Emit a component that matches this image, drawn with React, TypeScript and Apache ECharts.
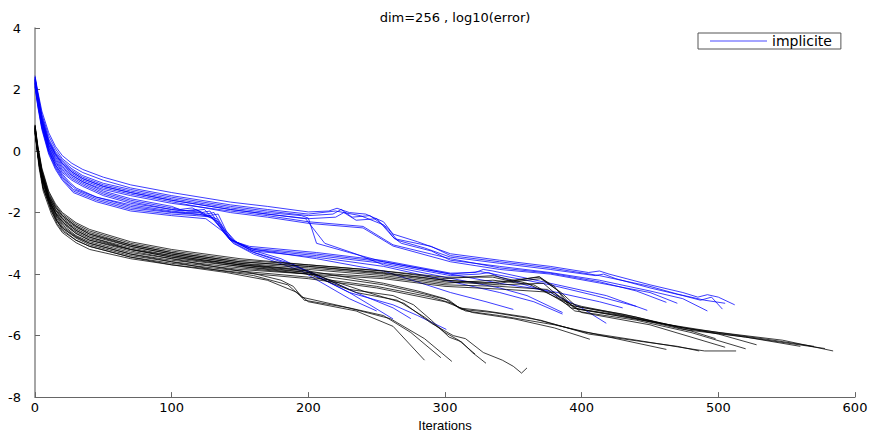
import React, { useEffect, useRef } from "react";
import * as echarts from "echarts";

type Pt = [number, number];

const titleText = "dim=256 , log10(error)";
const xAxisName = "Iterations";
const legendLabel = "implicite";
const otherLabel = "explicite";

// ---- blue curves (implicite) ----
const blueU1: Pt[] = [[0,2.45],[2,1.95],[5,1.3],[10,0.6],[15,0.15],[20,-0.15],[27,-0.4],[35,-0.6],[50,-0.85],[70,-1.1],[100,-1.35],[143,-1.66],[170,-1.8],[200,-1.98],[215,-1.95],[221,-1.86],[230,-2.0],[242,-2.05],[255,-2.3],[262,-2.7],[280,-2.95],[304,-3.34],[340,-3.55],[377,-3.75],[405,-3.95],[413,-3.9],[420,-4.0],[450,-4.35],[474,-4.6],[485,-4.75],[492,-4.67],[500,-4.75],[512,-5.0]];
const blueU2: Pt[] = [[0,2.35],[2,1.85],[5,1.15],[10,0.4],[15,-0.02],[20,-0.3],[27,-0.58],[35,-0.8],[50,-1.05],[70,-1.25],[100,-1.5],[143,-1.8],[170,-1.95],[200,-2.1],[218,-2.05],[224,-1.9],[232,-2.15],[245,-2.1],[258,-2.5],[265,-2.9],[285,-3.15],[304,-3.45],[340,-3.65],[377,-3.85],[410,-4.05],[416,-4.0],[425,-4.15],[450,-4.45],[474,-4.7],[487,-4.85],[495,-4.75],[503,-5.14]];
const blueU3: Pt[] = [[0,2.3],[2,1.75],[5,1.05],[10,0.3],[15,-0.1],[20,-0.4],[27,-0.68],[35,-0.9],[50,-1.15],[70,-1.35],[100,-1.6],[143,-1.9],[170,-2.05],[200,-2.2],[220,-2.15],[226,-2.0],[235,-2.25],[250,-2.2],[262,-2.8],[268,-3.0],[290,-3.25],[304,-3.55],[340,-3.75],[377,-3.95],[413,-4.2],[450,-4.55],[474,-4.8],[492,-5.2]];
const blueU4: Pt[] = [[0,2.4],[2,1.9],[5,1.2],[10,0.5],[15,0.07],[20,-0.25],[27,-0.5],[35,-0.7],[50,-0.95],[70,-1.2],[100,-1.45],[143,-1.75],[170,-1.9],[200,-2.05],[220,-1.95],[238,-2.1],[255,-2.4],[263,-2.85],[290,-3.1],[304,-3.4],[340,-3.6],[377,-3.8],[413,-4.05],[450,-4.4],[470,-4.65],[490,-4.85],[505,-4.95]];
const blueU5: Pt[] = [[0,2.2],[2,1.65],[5,0.95],[10,0.2],[15,-0.2],[20,-0.5],[27,-0.78],[35,-1.0],[50,-1.25],[70,-1.45],[100,-1.7],[143,-1.95],[170,-2.1],[200,-2.3],[240,-2.45],[262,-3.05],[290,-3.35],[304,-3.5],[340,-3.8],[377,-3.97],[413,-4.25],[440,-4.55],[462,-4.92]];
const blueU6: Pt[] = [[0,2.3],[2,1.75],[5,1.0],[10,0.25],[15,-0.15],[20,-0.45],[27,-0.73],[35,-0.95],[50,-1.2],[70,-1.4],[100,-1.65],[143,-2.0],[170,-2.15],[200,-2.35],[240,-2.5],[262,-3.09],[304,-3.6],[340,-3.85],[377,-4.0],[413,-4.29],[450,-4.6],[470,-4.95]];
const blueM1: Pt[] = [[0,2.35],[2,1.8],[5,1.0],[10,0.2],[15,-0.25],[20,-0.55],[27,-0.8],[35,-1.0],[50,-1.3],[70,-1.55],[100,-1.8],[106,-1.9],[115,-1.85],[122,-2.0],[128,-1.95],[135,-2.4],[143,-2.9],[157,-3.1],[206,-3.3],[255,-3.56],[304,-3.97],[322,-3.95],[328,-3.85],[335,-3.9],[377,-4.3],[418,-4.7],[448,-5.18]];
const blueM2: Pt[] = [[0,2.25],[2,1.65],[5,0.9],[10,0.1],[15,-0.35],[20,-0.65],[27,-0.9],[35,-1.1],[50,-1.4],[70,-1.65],[100,-1.9],[108,-1.95],[118,-1.9],[125,-2.05],[131,-2.0],[138,-2.5],[146,-2.95],[160,-3.2],[206,-3.4],[255,-3.65],[304,-4.05],[325,-4.0],[332,-3.95],[340,-4.1],[377,-4.6],[400,-5.1],[418,-5.6]];
const blueM3: Pt[] = [[0,2.2],[2,1.55],[5,0.8],[10,0.0],[15,-0.45],[20,-0.75],[25,-1.0],[30,-1.2],[45,-1.5],[70,-1.75],[100,-1.95],[110,-2.0],[120,-2.0],[127,-2.1],[134,-2.05],[140,-2.6],[148,-3.0],[160,-3.25],[206,-3.45],[255,-3.75],[300,-4.2],[340,-4.6],[365,-4.9],[386,-5.3]];
const blueM4: Pt[] = [[0,2.3],[2,1.7],[5,0.95],[10,0.15],[15,-0.3],[20,-0.6],[27,-0.85],[35,-1.05],[50,-1.35],[70,-1.6],[100,-1.85],[112,-1.95],[124,-1.9],[132,-2.3],[142,-2.85],[157,-3.15],[206,-3.35],[255,-3.6],[304,-4.0],[326,-3.92],[377,-4.35],[410,-4.7],[440,-5.05]];
const blueD1: Pt[] = [[0,2.4],[2,1.85],[5,1.1],[10,0.35],[15,-0.07],[20,-0.35],[27,-0.63],[35,-0.85],[50,-1.1],[70,-1.3],[100,-1.55],[143,-1.85],[170,-2.0],[195,-2.1],[200,-2.18],[206,-3.0],[230,-3.3],[255,-3.6],[304,-4.0],[340,-4.3],[377,-4.55],[413,-4.9],[430,-5.1]];
const blueD2: Pt[] = [[0,2.35],[2,1.8],[5,1.05],[10,0.3],[15,-0.12],[20,-0.4],[27,-0.68],[35,-0.9],[50,-1.15],[70,-1.35],[100,-1.6],[143,-1.9],[170,-2.05],[198,-2.2],[205,-2.6],[212,-3.0],[235,-3.35],[255,-3.7],[300,-4.1],[340,-4.45],[360,-4.7],[386,-5.25]];
const blueS1: Pt[] = [[0,2.15],[2,1.55],[5,0.8],[10,0.0],[15,-0.5],[20,-0.85],[28,-1.25],[45,-1.55],[70,-1.85],[100,-2.0],[115,-2.05],[128,-2.1],[136,-2.5],[143,-2.9],[157,-3.2],[180,-3.5],[206,-4.07],[230,-4.6],[262,-5.0],[280,-5.35],[301,-5.8]];
const blueS2: Pt[] = [[0,2.1],[2,1.5],[5,0.75],[10,-0.05],[15,-0.55],[20,-0.9],[28,-1.3],[45,-1.6],[70,-1.9],[100,-2.05],[118,-2.1],[130,-2.15],[138,-2.6],[146,-3.0],[157,-3.25],[190,-3.7],[230,-4.6],[245,-5.0],[262,-5.46]];
const blueS3: Pt[] = [[0,2.2],[2,1.6],[5,0.85],[10,0.05],[15,-0.45],[20,-0.8],[25,-1.05],[30,-1.25],[45,-1.5],[70,-1.8],[100,-1.98],[120,-2.05],[133,-2.2],[142,-2.8],[160,-3.3],[200,-3.9],[240,-4.7],[262,-5.1],[275,-5.45]];
const blueS4: Pt[] = [[0,2.1],[2,1.45],[5,0.7],[10,-0.1],[15,-0.6],[20,-0.95],[28,-1.35],[45,-1.65],[70,-1.95],[100,-2.1],[125,-2.2],[137,-2.6],[145,-3.0],[160,-3.35],[195,-3.9],[230,-4.8],[250,-5.2]];
const blueS5: Pt[] = [[0,2.25],[2,1.65],[5,0.9],[10,0.1],[15,-0.38],[20,-0.7],[27,-0.95],[35,-1.15],[50,-1.45],[70,-1.7],[100,-1.9],[120,-1.98],[134,-2.3],[144,-2.9],[160,-3.2],[206,-3.5],[255,-3.9],[304,-4.6],[330,-4.9],[350,-5.15]];

// ---- black curves ----
const blackK1: Pt[] = [[0,0.85],[2,0.2],[5,-0.55],[10,-1.3],[15,-1.72],[20,-2.0],[30,-2.33],[40,-2.55],[70,-2.95],[100,-3.2],[150,-3.5],[200,-3.7],[255,-3.9],[300,-4.1],[335,-4.1],[350,-4.25],[370,-4.15],[385,-4.6],[396,-5.05],[430,-5.3],[474,-5.75],[510,-5.95],[547,-6.15],[584,-6.5]];
const blackK2: Pt[] = [[0,0.8],[2,0.1],[5,-0.65],[10,-1.4],[15,-1.82],[20,-2.1],[30,-2.43],[40,-2.65],[70,-3.05],[100,-3.3],[150,-3.6],[200,-3.75],[255,-3.95],[300,-4.2],[330,-4.3],[369,-4.1],[380,-4.4],[392,-5.1],[430,-5.35],[474,-5.8],[520,-6.05],[578,-6.42]];
const blackK3: Pt[] = [[0,0.7],[2,0.0],[5,-0.75],[10,-1.5],[15,-1.92],[20,-2.2],[30,-2.53],[40,-2.75],[70,-3.1],[100,-3.35],[150,-3.65],[200,-3.8],[255,-4.0],[300,-4.25],[340,-4.35],[372,-4.3],[385,-4.8],[398,-5.15],[440,-5.45],[480,-5.8],[520,-6.05],[560,-6.35]];
const blackK4: Pt[] = [[0,0.6],[3,-0.35],[6,-1.0],[12,-1.75],[16,-2.08],[20,-2.3],[30,-2.63],[40,-2.85],[70,-3.2],[100,-3.45],[150,-3.7],[200,-3.85],[255,-4.05],[300,-4.3],[335,-4.2],[365,-4.35],[390,-5.0],[420,-5.25],[470,-5.7],[500,-5.95],[528,-6.3]];
const blackK5: Pt[] = [[0,0.75],[2,-0.1],[5,-0.85],[10,-1.6],[15,-2.08],[20,-2.4],[30,-2.75],[40,-2.95],[70,-3.3],[100,-3.5],[150,-3.75],[200,-3.95],[255,-4.1],[300,-4.35],[340,-4.4],[375,-4.5],[395,-5.2],[440,-5.5],[480,-5.9],[520,-6.43]];
const blackK6: Pt[] = [[0,0.65],[3,-0.45],[6,-1.2],[12,-1.95],[16,-2.28],[20,-2.5],[30,-2.83],[40,-3.05],[70,-3.4],[100,-3.6],[150,-3.85],[200,-4.0],[255,-4.15],[300,-4.4],[345,-4.5],[380,-4.6],[400,-5.25],[450,-5.65],[505,-6.38]];
const blackK7: Pt[] = [[0,0.8],[2,0.0],[5,-0.75],[10,-1.5],[15,-1.92],[20,-2.2],[30,-2.58],[40,-2.8],[70,-3.15],[100,-3.4],[150,-3.7],[200,-3.9],[255,-4.3],[280,-4.55],[300,-4.8],[310,-5.1],[330,-5.2],[360,-5.4],[401,-5.88],[440,-6.15],[475,-6.4],[490,-6.5],[513,-6.5]];
const blackK8: Pt[] = [[0,0.7],[3,-0.45],[6,-1.2],[12,-1.85],[16,-2.2],[20,-2.45],[30,-2.78],[40,-3.0],[70,-3.35],[100,-3.55],[150,-3.8],[200,-4.0],[255,-4.35],[285,-4.65],[303,-4.85],[312,-5.15],[335,-5.25],[370,-5.5],[405,-5.95],[445,-6.2],[470,-6.35],[486,-6.5]];
const blackK9: Pt[] = [[0,0.75],[2,-0.1],[5,-0.85],[10,-1.65],[15,-2.2],[20,-2.55],[30,-2.9],[40,-3.1],[70,-3.45],[100,-3.65],[150,-3.9],[200,-4.1],[250,-4.4],[290,-4.75],[305,-4.95],[315,-5.2],[340,-5.35],[380,-5.65],[420,-6.05],[462,-6.45]];
const blackK10: Pt[] = [[0,0.6],[3,-0.55],[6,-1.3],[12,-2.05],[16,-2.4],[20,-2.65],[30,-2.98],[40,-3.2],[70,-3.5],[100,-3.7],[150,-3.95],[200,-4.15],[250,-4.45],[300,-4.9],[320,-5.25],[350,-5.45],[380,-5.75],[406,-6.12]];
const blackK11: Pt[] = [[0,0.7],[2,-0.1],[5,-0.85],[10,-1.6],[15,-2.02],[20,-2.3],[30,-2.68],[40,-2.9],[70,-3.25],[100,-3.5],[130,-3.75],[157,-3.95],[180,-4.2],[189,-4.4],[197,-4.85],[230,-5.1],[255,-5.35],[275,-5.9],[297,-6.72]];
const blackK12: Pt[] = [[0,0.65],[3,-0.35],[6,-1.1],[12,-1.85],[16,-2.25],[20,-2.5],[30,-2.8],[40,-3.0],[70,-3.35],[100,-3.6],[130,-3.85],[160,-4.05],[185,-4.35],[195,-4.75],[225,-5.05],[260,-5.45],[285,-6.1],[305,-6.84]];
const blackK13: Pt[] = [[0,0.6],[3,-0.45],[6,-1.2],[12,-1.95],[16,-2.35],[20,-2.6],[30,-2.9],[40,-3.1],[70,-3.45],[100,-3.7],[140,-3.95],[170,-4.2],[192,-4.6],[200,-4.9],[235,-5.2],[262,-5.7],[285,-6.8]];
const blackK14: Pt[] = [[0,0.8],[2,0.1],[5,-0.65],[10,-1.45],[15,-1.88],[20,-2.15],[30,-2.48],[40,-2.7],[70,-3.1],[100,-3.35],[150,-3.65],[200,-3.9],[230,-4.5],[262,-4.7],[277,-5.0],[290,-5.5],[303,-6.05],[312,-6.2],[320,-6.55],[330,-6.9]];
const blackK15: Pt[] = [[0,0.7],[3,-0.25],[6,-1.0],[12,-1.75],[16,-2.12],[20,-2.35],[30,-2.68],[40,-2.9],[70,-3.2],[100,-3.45],[150,-3.75],[200,-4.0],[235,-4.6],[265,-4.85],[285,-5.4],[300,-5.9],[310,-6.15],[322,-6.6]];
const blackK16: Pt[] = [[0,0.75],[2,0.0],[5,-0.75],[10,-1.55],[15,-1.98],[20,-2.25],[30,-2.58],[40,-2.8],[70,-3.2],[100,-3.4],[150,-3.7],[200,-3.95],[240,-4.55],[270,-4.95],[290,-5.6],[306,-6.0],[315,-6.1],[328,-6.55],[342,-6.8],[350,-7.0],[356,-7.22],[360,-7.05]];
const blackK17: Pt[] = [[0,0.85],[2,0.15],[5,-0.6],[10,-1.35],[15,-1.77],[20,-2.05],[30,-2.38],[40,-2.6],[70,-3.0],[100,-3.25],[150,-3.55],[200,-3.7],[255,-3.9],[300,-4.15],[335,-4.05],[360,-4.3],[388,-4.9],[400,-5.05],[440,-5.4],[480,-5.85],[498,-6.1]];
const blackK18: Pt[] = [[0,0.8],[2,0.05],[5,-0.7],[10,-1.45],[15,-1.82],[20,-2.1],[30,-2.45],[40,-2.7],[70,-3.05],[100,-3.3],[150,-3.6],[200,-3.75],[250,-3.95],[300,-4.2],[340,-4.3],[369,-4.08],[383,-4.55],[394,-5.1],[450,-5.55],[500,-5.9],[540,-6.15],[570,-6.35]];

const blueLines: Pt[][] = [blueU1, blueU2, blueU3, blueU4, blueU5, blueU6, blueM1, blueM2, blueM3, blueM4, blueD1, blueD2, blueS1, blueS2, blueS3, blueS4, blueS5];
const blackLines: Pt[][] = [blackK1, blackK2, blackK3, blackK4, blackK5, blackK6, blackK7, blackK8, blackK9, blackK10, blackK11, blackK12, blackK13, blackK14, blackK15, blackK16, blackK17, blackK18];

export default function App() {
  const ref = useRef<HTMLDivElement>(null);
  useEffect(() => {
    if (!ref.current) return;
    const chart = echarts.init(ref.current, null, { renderer: "svg" });
    const mk = (d: Pt[], name: string, color: string, z: number) => ({
      name,
      type: "line",
      data: d,
      symbol: "none",
      showSymbol: false,
      silent: true,
      z,
      itemStyle: { color },
      lineStyle: { color, width: 0.9, opacity: 0.85 },
    });
    const series = [
      ...blueLines.map((d) => mk(d, legendLabel, "#0000ff", 2)),
      ...blackLines.map((d) => mk(d, otherLabel, "#000000", 3)),
    ];
    const axisColor = "#666";
    chart.setOption({
      animation: false,
      backgroundColor: "#ffffff",
      title: {
        text: titleText,
        left: 450,
        top: 6,
        textAlign: "center",
        textStyle: { fontFamily: "DejaVu Sans", fontSize: 13, fontWeight: "normal", color: "#000" },
      },
      legend: {
        data: [{ name: legendLabel, icon: "rect" }],
        left: 698,
        top: 33,
        orient: "horizontal",
        padding: [1, 9, 1, 12],
        itemWidth: 57,
        itemHeight: 1,
        itemGap: 6,
        borderColor: "#555",
        borderWidth: 1,
        backgroundColor: "#fff",
        itemStyle: { color: "#4a4aff" },
        textStyle: { fontFamily: "DejaVu Sans", fontSize: 14, color: "#000" },
      },
      grid: { left: 35, right: 25, top: 28, bottom: 30 },
      xAxis: {
        type: "value",
        min: 0,
        max: 600,
        interval: 100,
        name: xAxisName,
        nameLocation: "middle",
        nameGap: 15,
        nameTextStyle: { fontFamily: "Liberation Sans", fontSize: 13, color: "#000" },
        axisLine: { show: true, onZero: false, lineStyle: { color: axisColor, width: 1 } },
        axisTick: { show: true, inside: true, length: 5, lineStyle: { color: axisColor } },
        axisLabel: { margin: 4, fontFamily: "DejaVu Sans", fontSize: 13, color: "#000" },
        splitLine: { show: false },
      },
      yAxis: {
        type: "value",
        min: -8,
        max: 4,
        interval: 2,
        axisLine: { show: true, onZero: false, lineStyle: { color: "#888", width: 1.5 } },
        axisTick: { show: true, inside: true, length: 5, lineStyle: { color: axisColor } },
        axisLabel: { margin: 14, fontFamily: "DejaVu Sans", fontSize: 13, color: "#000" },
        splitLine: { show: false },
      },
      series,
    });
    return () => chart.dispose();
  }, []);
  return <div ref={ref} style={{ position: "fixed", left: 0, top: 0, width: 880, height: 437 }} />;
}
